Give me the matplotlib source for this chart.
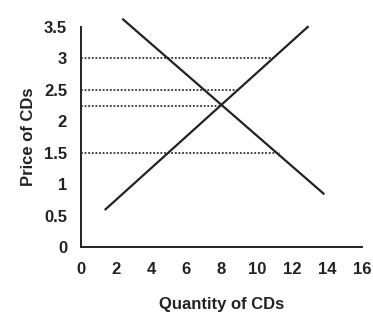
import matplotlib
matplotlib.use("Agg")
from matplotlib import pyplot as plt

plt.rcParams["font.family"] = ["Liberation Sans", "DejaVu Sans"]
plt.rcParams["font.weight"] = "bold"

# demand and supply curves (quantity, price)
demand_q = [2.4, 13.8]
demand_p = [3.62, 0.85]
supply_q = [1.4, 12.9]
supply_p = [0.6, 3.5]

# horizontal price levels and where each dotted guide stops
price_levels = [3.0, 2.5, 2.25, 1.5]
guide_ends = [10.9, 8.9, 8.0, 11.3]

x_ticks = [0, 2, 4, 6, 8, 10, 12, 14, 16]
y_ticks = [0, 0.5, 1, 1.5, 2, 2.5, 3, 3.5]
y_tick_labels = ["0", "0.5", "1", "1.5", "2", "2.5", "3", "3.5"]

fig = plt.figure(figsize=(3.73, 3.25), dpi=100)
ax = fig.add_axes([0.217, 0.24, 0.754, 0.677])

for p, end in zip(price_levels, guide_ends):
    ax.plot([0, end], [p, p], color="#333333", lw=1.3, ls=(0, (1, 1)))

ax.plot(demand_q, demand_p, color="#222222", lw=1.6, clip_on=False)
ax.plot(supply_q, supply_p, color="#222222", lw=1.6, clip_on=False)

ax.set_xlim(0, 16)
ax.set_ylim(0, 3.5)
ax.set_xticks(x_ticks)
ax.set_yticks(y_ticks)
ax.set_yticklabels(y_tick_labels)
ax.tick_params(length=0, labelsize=12, colors="#222222")
ax.tick_params(axis="x", pad=11)
ax.tick_params(axis="y", pad=10)
for side in ["top", "right"]:
    ax.spines[side].set_visible(False)
for side in ["left", "bottom"]:
    ax.spines[side].set_linewidth(1.4)
    ax.spines[side].set_color("#222222")

ax.set_xlabel("Quantity of CDs", fontsize=12, fontweight="bold", labelpad=14, color="#222222")
ax.set_ylabel("Price of CDs", fontsize=12, fontweight="bold", labelpad=6, color="#222222")

fig.savefig("out.png", dpi=100)
